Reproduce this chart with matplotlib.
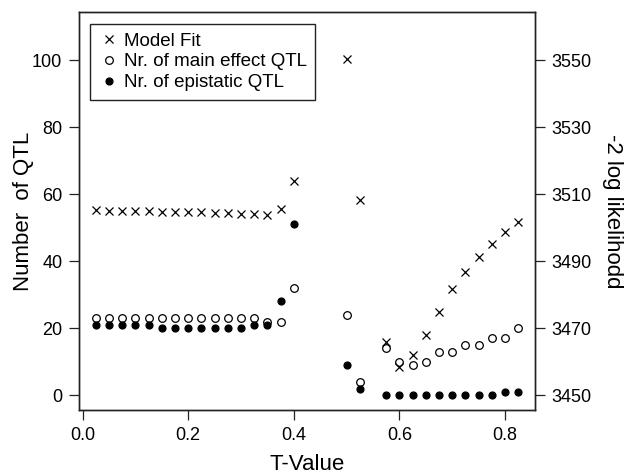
import numpy as np
import matplotlib
matplotlib.use("Agg")
import matplotlib.pyplot as plt
from matplotlib.lines import Line2D

plt.rcParams['font.family'] = ['Liberation Sans', 'DejaVu Sans']

# T-values
t_value = [0.025, 0.05, 0.075, 0.1, 0.125, 0.15, 0.175, 0.2, 0.225, 0.25,
           0.275, 0.3, 0.325, 0.35, 0.375, 0.4, 0.5, 0.525, 0.575, 0.6,
           0.625, 0.65, 0.675, 0.7, 0.725, 0.75, 0.775, 0.8, 0.825]

# -2 log likelihood (right axis)
model_fit = [3505.2, 3505.1, 3505.0, 3504.9, 3504.9, 3504.8, 3504.7, 3504.6,
             3504.6, 3504.4, 3504.3, 3504.2, 3504.1, 3503.9, 3505.7, 3514.1,
             3550.3, 3508.3, 3465.8, 3458.5, 3462.1, 3468.1, 3475.0, 3481.7,
             3486.7, 3491.2, 3495.2, 3498.6, 3501.8]

# number of QTL (left axis)
main_qtl = [23, 23, 23, 23, 23, 23, 23, 23, 23, 23, 23, 23, 23, 22, 22, 32,
            24, 4, 14, 10, 9, 10, 13, 13, 15, 15, 17, 17, 20]
epi_qtl = [21, 21, 21, 21, 21, 20, 20, 20, 20, 20, 20, 20, 21, 21, 28, 51,
           9, 2, 0, 0, 0, 0, 0, 0, 0, 0, 0, 1, 1]

fig = plt.figure(figsize=(6.27, 4.76), dpi=100)
ax = fig.add_axes([79 / 627, 1 - 410 / 476, 456 / 627, 398 / 476])
ax2 = ax.twinx()

ms = 5.5
ax.plot(t_value, main_qtl, 'o', mfc='white', mec='black', ms=ms, mew=0.9)
ax.plot(t_value, epi_qtl, 'o', mfc='black', mec='black', ms=ms - 0.5, mew=0.9)
ax2.plot(t_value, model_fit, 'x', color='black', ms=ms, mew=0.9)

ax.set_xlim(-0.007, 0.857)
ax.set_ylim(-4.4, 114.4)
ax2.set_ylim(3450 - 4.4, 3450 + 114.4)

ax.set_xticks(np.arange(0, 0.81, 0.2))
ax.set_xticklabels(['0.0', '0.2', '0.4', '0.6', '0.8'])
ax.set_yticks(np.arange(0, 101, 20))
ax2.set_yticks(np.arange(3450, 3551, 20))

for a in (ax, ax2):
    a.tick_params(direction='out', length=7, width=0.9, labelsize=13,
                  pad=5, color='#222222')
    for s in a.spines.values():
        s.set_linewidth(1.0)
        s.set_color('#222222')

handles = [
    Line2D([], [], ls='none', marker='x', color='black', ms=ms, mew=0.9),
    Line2D([], [], ls='none', marker='o', mfc='white', mec='black', ms=ms, mew=0.9),
    Line2D([], [], ls='none', marker='o', mfc='black', mec='black', ms=ms - 0.5, mew=0.9),
]
labels = ['Model Fit', 'Nr. of main effect QTL', 'Nr. of epistatic QTL']
leg = ax2.legend(handles, labels, loc='upper left', bbox_to_anchor=(0.024, 0.970),
                 borderaxespad=0, fontsize=13.5, fancybox=False, framealpha=1,
                 edgecolor='#222222', handlelength=1.1, handletextpad=0.25,
                 labelspacing=0.2, borderpad=0.45)
leg.get_frame().set_linewidth(1.0)

fig.text(24 / 627, 1 - 211 / 476, 'Number  of QTL', rotation=90,
         ha='center', va='center', fontsize=16)
fig.text(612 / 627, 1 - 211 / 476, '-2 log likelihodd', rotation=270,
         ha='center', va='center', fontsize=16)
fig.text(307 / 627, 1 - 464 / 476, 'T-Value', ha='center', va='center',
         fontsize=16)

fig.savefig('out.png', dpi=100)
